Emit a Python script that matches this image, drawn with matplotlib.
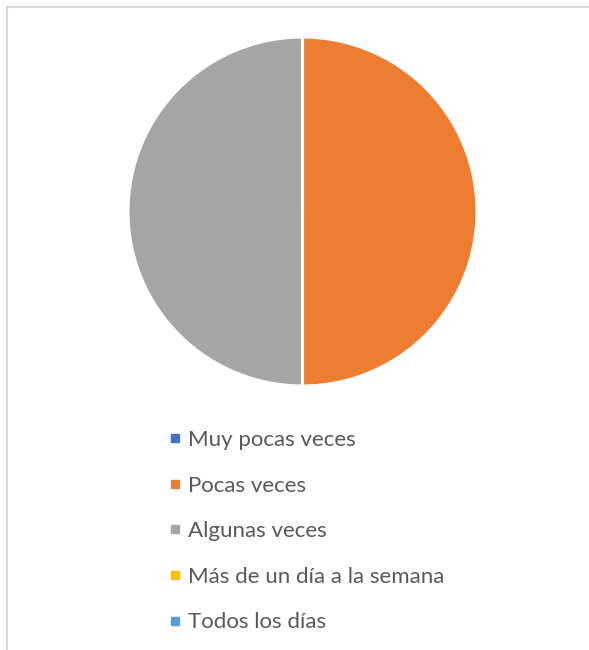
import matplotlib.pyplot as plt
from matplotlib.lines import Line2D
from matplotlib.patches import Rectangle

categorias = ['Muy pocas veces', 'Pocas veces', 'Algunas veces',
              'Más de un día a la semana', 'Todos los días']
porcentajes = [0, 50, 50, 0, 0]
colores = ['#4472C4', '#ED7D31', '#A5A5A5', '#FFC000', '#5B9BD5']

plt.rcParams['font.family'] = ['Lato', 'DejaVu Sans']

fig = plt.figure(figsize=(5.89, 6.5), dpi=100)

# chart frame
fig.patches.append(Rectangle((7 / 589, -0.1), 1.2, (650 - 7) / 650 + 0.1,
                             transform=fig.transFigure, fill=False,
                             edgecolor='#D9D9D9', linewidth=1.5))

ax = fig.add_axes([128 / 589, 1 - 386 / 650, 349 / 589, 349 / 650])
ax.pie(porcentajes, colors=colores, startangle=90, counterclock=False,
       wedgeprops=dict(edgecolor='white', linewidth=2.2))
ax.set_xlim(-1, 1)
ax.set_ylim(-1, 1)
ax.set_aspect('equal')
ax.axis('off')

handles = [Line2D([], [], marker='s', linestyle='none', markersize=6,
                  markerfacecolor=c, markeredgecolor=c) for c in colores]
leg = fig.legend(handles, categorias, loc='upper left',
                 bbox_to_anchor=(157 / 589, 1 - 419 / 650),
                 frameon=False, fontsize=16, labelspacing=1.15,
                 handlelength=0.6, handletextpad=0.3, borderpad=0)
for t in leg.get_texts():
    t.set_color('#595959')

fig.savefig('out.png', dpi=100)
